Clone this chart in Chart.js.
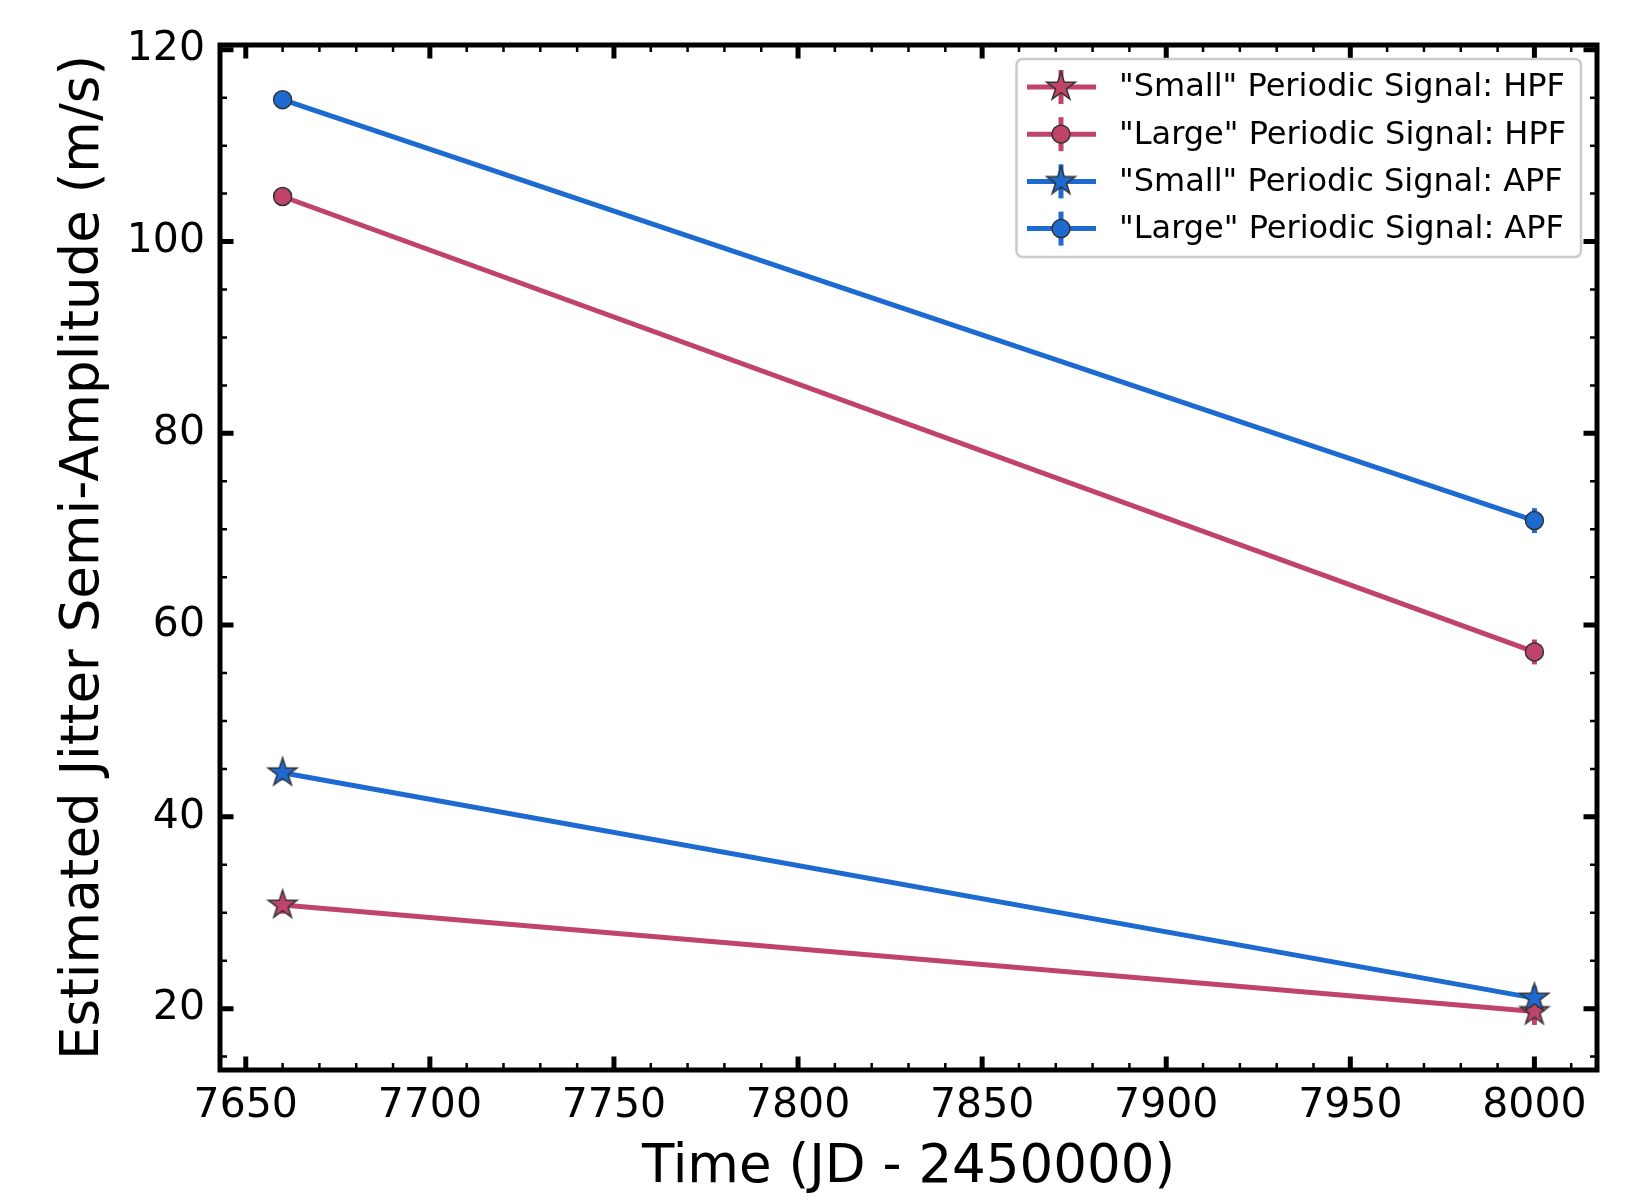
<!DOCTYPE html>
<html><head><meta charset="utf-8">
<script src="https://cdn.jsdelivr.net/npm/chart.js@4.4.1/dist/chart.umd.min.js"></script>
<style>html,body{margin:0;padding:0;background:#fff}#wrap{width:1633px;height:1200px;position:relative}</style>
</head><body><div id="wrap"><canvas id="c"></canvas></div>
<script>
// ---- data ----
const timeJD = [7660, 8000];
const smallHPF = [30.8, 19.7];
const smallHPFErr = [0.9, 1.4];
const largeHPF = [104.7, 57.2];
const largeHPFErr = [0.9, 1.3];
const smallAPF = [44.6, 21.1];
const smallAPFErr = [0.8, 1.2];
const largeAPF = [114.8, 70.9];
const largeAPFErr = [0.8, 1.3];
const seriesLabels = ['"Small" Periodic Signal: HPF', '"Large" Periodic Signal: HPF', '"Small" Periodic Signal: APF', '"Large" Periodic Signal: APF'];
const xTickLabels = [7650, 7700, 7750, 7800, 7850, 7900, 7950, 8000];
const yTickLabels = [20, 40, 60, 80, 100, 120];
const xTitle = 'Time (JD - 2450000)';
const yTitle = 'Estimated Jitter Semi-Amplitude (m/s)';

// ---- styles ----
const RED = '#C0436A', BLUE = '#1D6AD0', EDGE = '#333333';
const FONT = 'DejaVu Sans';
function makeStar(fill) {
  const R = 15, r = R * 0.381966, S = 36, c = S / 2;
  const cv = document.createElement('canvas'); cv.width = S; cv.height = S;
  const g = cv.getContext('2d');
  g.beginPath();
  for (let k = 0; k < 10; k++) {
    const a = -Math.PI / 2 + k * Math.PI / 5, rr = k % 2 ? r : R;
    const px = c + rr * Math.cos(a), py = c + rr * Math.sin(a);
    k ? g.lineTo(px, py) : g.moveTo(px, py);
  }
  g.closePath(); g.fillStyle = fill; g.fill();
  g.lineWidth = 1.5; g.strokeStyle = EDGE; g.lineJoin = 'miter'; g.stroke();
  return cv;
}
const starRed = makeStar(RED), starBlue = makeStar(BLUE);
const pts = (ys) => timeJD.map((x, i) => ({x, y: ys[i]}));
function ds(label, ys, err, color, star, order) {
  return {label, data: pts(ys), err, borderColor: color, backgroundColor: color,
    borderWidth: 5, pointStyle: star || 'circle', pointRadius: 9, pointBorderWidth: 1.5,
    pointBorderColor: EDGE, pointBackgroundColor: color, order, tension: 0};
}

const framePlugin = {
  id: 'frame',
  beforeDatasetsDraw(chart) {
    const {ctx, scales: {x, y}} = chart;
    ctx.save(); ctx.lineWidth = 5; ctx.lineCap = 'butt';
    chart.data.datasets.forEach(d => {
      d.data.forEach((p, i) => {
        const px = x.getPixelForValue(p.x);
        ctx.strokeStyle = d.borderColor;
        ctx.beginPath();
        ctx.moveTo(px, y.getPixelForValue(p.y - d.err[i]));
        ctx.lineTo(px, y.getPixelForValue(p.y + d.err[i]));
        ctx.stroke();
      });
    });
    ctx.restore();
  },
  afterDraw(chart) {
    const {ctx, chartArea: ca, scales: {x, y}} = chart;
    ctx.save();
    ctx.strokeStyle = '#000'; ctx.lineCap = 'butt';
    const tick = (v, axis, len, w) => {
      ctx.lineWidth = w; ctx.beginPath();
      if (axis === 'x') {
        const p = x.getPixelForValue(v);
        ctx.moveTo(p, ca.bottom); ctx.lineTo(p, ca.bottom - len);
        ctx.moveTo(p, ca.top); ctx.lineTo(p, ca.top + len);
      } else {
        const p = y.getPixelForValue(v);
        ctx.moveTo(ca.left, p); ctx.lineTo(ca.left + len, p);
        ctx.moveTo(ca.right, p); ctx.lineTo(ca.right - len, p);
      }
      ctx.stroke();
    };
    for (let v = 7650; v <= 8010; v += 10) if (!xTickLabels.includes(v)) tick(v, 'x', 7, 2.5);
    for (let v = 15; v <= 120; v += 5) if (!yTickLabels.includes(v)) tick(v, 'y', 7, 2.5);
    xTickLabels.forEach(v => tick(v, 'x', 13.5, 5));
    yTickLabels.forEach(v => tick(v, 'y', 13.5, 5));
    ctx.lineWidth = 5; ctx.lineJoin = 'miter';
    ctx.strokeRect(ca.left, ca.top, ca.right - ca.left, ca.bottom - ca.top);

    // legend
    const L = {x: 1016.5, y: 59, w: 564.5, h: 198, r: 6};
    ctx.beginPath();
    ctx.roundRect(L.x, L.y, L.w, L.h, L.r);
    ctx.fillStyle = 'rgba(255,255,255,0.8)'; ctx.fill();
    ctx.strokeStyle = '#cccccc'; ctx.lineWidth = 2.5; ctx.stroke();
    chart.data.datasets.forEach((d, i) => {
      const cy = 87 + i * 47.2, mx = 1061;
      ctx.strokeStyle = d.borderColor; ctx.lineWidth = 5;
      ctx.beginPath(); ctx.moveTo(1027, cy); ctx.lineTo(1096, cy); ctx.stroke();
      ctx.beginPath(); ctx.moveTo(mx, cy - 17); ctx.lineTo(mx, cy + 17); ctx.stroke();
      if (d.pointStyle === 'circle') {
        ctx.beginPath(); ctx.arc(mx, cy, 9, 0, Math.PI * 2);
        ctx.fillStyle = d.borderColor; ctx.fill();
        ctx.lineWidth = 1.5; ctx.strokeStyle = EDGE; ctx.stroke();
      } else {
        ctx.drawImage(d.pointStyle, mx - d.pointStyle.width / 2, cy - d.pointStyle.height / 2);
      }
      ctx.fillStyle = '#000'; ctx.font = '32px "' + FONT + '"';
      ctx.textAlign = 'left'; ctx.textBaseline = 'middle';
      ctx.fillText(d.label, 1119, cy + 1);
    });
    ctx.restore();
  }
};

new Chart(document.getElementById('c'), {
  type: 'line',
  data: {datasets: [
    ds(seriesLabels[0], smallHPF, smallHPFErr, RED, starRed, 4),
    ds(seriesLabels[1], largeHPF, largeHPFErr, RED, null, 3),
    ds(seriesLabels[2], smallAPF, smallAPFErr, BLUE, starBlue, 2),
    ds(seriesLabels[3], largeAPF, largeAPFErr, BLUE, null, 1)
  ]},
  options: {
    responsive: true, maintainAspectRatio: false, animation: false, events: [],
    layout: {padding: {left: 0, top: 45, right: 36, bottom: 0}},
    plugins: {legend: {display: false}, tooltip: {enabled: false}},
    scales: {
      x: {type: 'linear', min: 7643, max: 8017,
        afterFit(s) { s.height = 130; },
        afterBuildTicks(s) { s.ticks = xTickLabels.map(v => ({value: v})); },
        grid: {display: false, drawTicks: false}, border: {display: false},
        ticks: {font: {family: FONT, size: 41}, color: '#000', padding: 12, maxRotation: 0, autoSkip: false, callback: v => String(v)},
        title: {display: true, text: xTitle, color: '#000', font: {family: FONT, size: 53}, padding: {top: 0, bottom: 0}}
      },
      y: {type: 'linear', min: 13.6, max: 120.5,
        afterFit(s) { s.width = 220; },
        afterBuildTicks(s) { s.ticks = yTickLabels.map(v => ({value: v})); },
        grid: {display: false, drawTicks: false}, border: {display: false},
        ticks: {font: {family: FONT, size: 41}, color: '#000', padding: 15, autoSkip: false, callback: v => String(v)},
        title: {display: true, text: yTitle, color: '#000', font: {family: FONT, size: 53}, padding: {top: 52, bottom: 0}}
      }
    }
  },
  plugins: [framePlugin]
});
</script></body></html>
